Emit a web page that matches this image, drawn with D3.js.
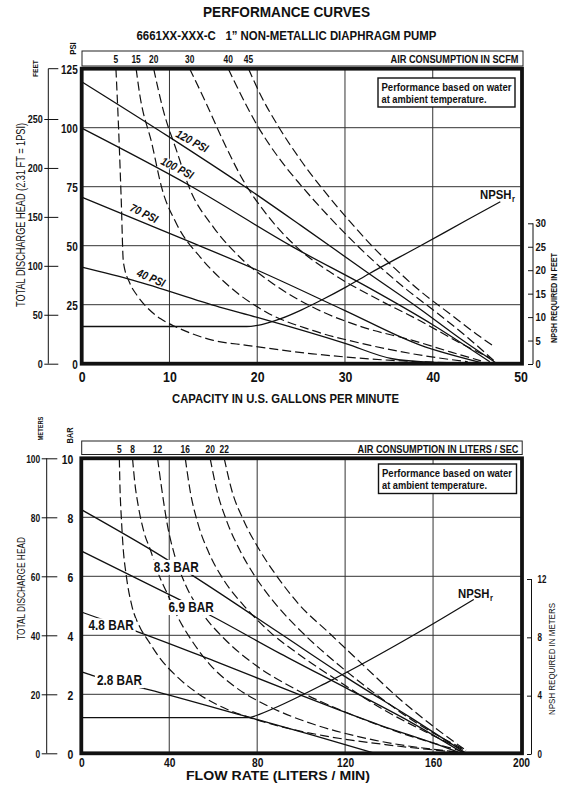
<!DOCTYPE html>
<html><head><meta charset="utf-8">
<script src="https://cdn.jsdelivr.net/npm/d3@7"></script>
<style>
html,body{margin:0;padding:0;background:#fff;}
svg{display:block;}
</style></head><body>
<svg id="c" width="572" height="790"></svg>
<script>
// ---------------- DATA ----------------
// Top chart: capacity (US GPM) vs head (PSI)
const gpmTicks = [0, 10, 20, 30, 40, 50];
const psiTicks = [0, 25, 50, 75, 100, 125];
const feetTicks = [0, 50, 100, 150, 200, 250];
const npshFeetTicks = [0, 5, 10, 15, 20, 25, 30];
const psiLineNames = ["120 PSI", "100 PSI", "70 PSI", "40 PSI"];
const psi120 = [[0,119.5],[10,96],[18.4,75.5],[25,58.5],[32.8,38],[38.5,23.3],[43,11],[47.1,0.6]];
const psi100 = [[0,99.8],[12.3,75.5],[24.1,49.4],[32.8,32],[40,16.5],[46.5,0.8]];
const psi70  = [[0,70.6],[12.7,51.1],[19.9,39.8],[30,22.5],[38.5,8],[45.5,0.5]];
const psi40  = [[0,40.9],[5.9,35.3],[15.7,24],[19.9,19.7],[30.1,8.5],[35.4,2.1],[40,0.6],[43.5,0]];
const scfmValues = [5, 15, 20, 30, 40, 45];
const scfm5  = [[3.9,125],[4.2,100],[4.5,70],[4.75,43],[5.5,34],[6.3,29],[7.4,24],[9,19],[10.8,15.5],[15,9.9],[18.8,7.8],[26.3,4.2],[35.4,1.4],[43,0.3]];
const scfm15 = [[6.2,125],[6.6,114.4],[8,93.2],[9.1,74.8],[10.8,59.3],[13.5,45.2],[16.9,32.5],[21,21.9],[26.3,14.1],[32,8.5],[38,4],[44,0.8]];
const scfm20 = [[8.2,125],[9.3,107.3],[10.8,90.4],[12.3,74.2],[15,57.9],[18,45.2],[21.8,33.9],[26.3,24],[32,15.5],[37.7,9.9],[42,5],[45.5,1.2]];
const scfm30 = [[12.3,125],[14.2,110.2],[16.1,94.6],[18.4,77.7],[21,63.6],[24.5,49.4],[28.6,38.1],[34,26.8],[38.5,18.3],[43,9],[46.5,2.5]];
const scfm40 = [[16.7,125],[18,115],[20,101],[22.5,87],[25,75.5],[28,63],[31,51.5],[34,41],[37,31.5],[40.5,21.5],[44,11],[47,1.2]];
const scfm45 = [[19,125],[20.5,113],[22.5,100],[25,86],[28,71.5],[30.5,60.5],[32.8,51],[35.5,41],[38.5,31],[42,21],[45,12.5],[47.1,7]];
const npshFeet = [[0,8],[18.8,8],[20.5,8.4],[22.6,9.6],[25,11.5],[27.5,13.8],[30.1,16.4],[32.8,19.3],[38.5,25.1],[43.9,30.7],[47.7,34.6]];

// Bottom chart: flow rate (L/min) vs head (BAR)
const lpmTicks = [0, 40, 80, 120, 160, 200];
const barTicks = [0, 2, 4, 6, 8, 10];
const meterTicks = [0, 20, 40, 60, 80, 100];
const npshMeterTicks = [0, 4, 8, 12];
const barLineNames = ["8.3 BAR", "6.9 BAR", "4.8 BAR", "2.8 BAR"];
const bar83 = [[0,8.26],[35.9,6.71],[48,6.15],[90.5,4.06],[120,2.6],[150,1.2],[175,0]];
const bar69 = [[0,6.86],[40.5,5.36],[57.1,4.74],[90.5,3.38],[120.8,2.2],[150,1.05],[174,0]];
const bar48 = [[0,4.79],[6.4,4.62],[26,4.11],[60.1,3.14],[98,2.02],[136,0.95],[160,0.35],[173,0]];
const bar28 = [[0,2.76],[4.9,2.64],[30.6,2.16],[75.3,1.24],[105.6,0.61],[133.6,0]];
const lpsValues = [5, 8, 12, 16, 20, 22];
const lps5  = [[17.3,10],[17.6,9],[18.2,8],[19,7],[20.5,6],[23,5],[26.5,4.3],[30.6,3.8],[36,3.2],[43.5,2.6],[52.6,2.05],[66,1.5],[75,1.25],[90,0.92],[110,0.6],[140,0.28],[172,0.03]];
const lps8  = [[23.3,10],[24.3,9.2],[26,8.35],[28.5,7.5],[31.4,6.9],[35,6.1],[39.2,5.4],[44,4.6],[50,3.85],[58,3.05],[70,2.25],[85,1.6],[105,1.0],[130,0.5],[173,0.03]];
const lps12 = [[34.7,10],[36.7,8.9],[39,7.8],[42.5,6.7],[47.5,5.7],[55,4.75],[65.5,3.85],[80,2.95],[98,2.15],[120,1.4],[143,0.75],[174,0.05]];
const lps16 = [[47.3,10],[49.5,8.9],[53,7.8],[58,6.8],[65,5.85],[74,5.0],[86,4.1],[100,3.3],[117,2.45],[137,1.5],[156,0.75],[175,0.08]];
const lps20 = [[58.6,10],[61.7,8.9],[66,7.9],[72,6.9],[79,6.0],[88.5,5.05],[101,4.06],[117,3.0],[134,2.0],[152,1.05],[175,0.1]];
const lps22 = [[65,10],[68.5,8.9],[73.8,7.9],[81,6.9],[89,6.0],[99,5.05],[113,4.06],[128.8,2.95],[143.9,1.9],[158.6,1.0],[174,0.15]];
const npshMeters = [[0,2.5],[76,2.5],[78.5,2.58],[81,2.72],[113,5.0],[154,8.4],[178.5,10.6]];

// ---------------- DRAWING ----------------
const svg = d3.select("#c");
const FONT = "'Liberation Sans',Arial,Helvetica,sans-serif";
const INK = "#111";

function squeeze(node, f) {
  const L = node.getComputedTextLength();
  node.setAttribute("textLength", (L * f).toFixed(2));
  node.setAttribute("lengthAdjust", "spacingAndGlyphs");
}
function T(parent, o) {
  const t = parent.append("text")
    .attr("x", o.x).attr("y", o.y)
    .attr("font-family", FONT)
    .attr("font-size", o.size || 11)
    .attr("font-weight", o.weight || "bold")
    .attr("font-style", o.italic ? "italic" : "normal")
    .attr("text-anchor", o.anchor || "start")
    .attr("fill", INK)
    .style("white-space", "pre")
    .text(o.text);
  if (o.dy) t.attr("dy", o.dy);
  if (o.rotate) t.attr("transform", `rotate(${o.rotate},${o.x},${o.y})`);
  if (o.len) t.attr("textLength", o.len).attr("lengthAdjust", "spacingAndGlyphs");
  else if (o.sq !== 1) squeeze(t.node(), o.sq || 0.82);
  return t;
}
function styleAxis(g, size, f) {
  g.select(".domain").remove();
  g.selectAll("text").attr("font-family", FONT).attr("font-weight", "bold")
    .attr("font-size", size).attr("fill", INK)
    .each(function() { squeeze(this, f); });
  g.selectAll(".tick line").attr("stroke", INK).attr("stroke-width", 1);
}
function interp(series, x) {
  for (let i = 1; i < series.length; i++) {
    if (x <= series[i][0]) {
      const a = series[i-1], b = series[i];
      return a[1] + (b[1]-a[1]) * (x - a[0]) / (b[0]-a[0]);
    }
  }
  return series[series.length-1][1];
}
function npshLabel(parent, x, y) {
  const g = parent.append("g").attr("transform", `translate(${x},${y}) scale(0.84,1)`);
  const t = g.append("text").attr("x", 0).attr("y", 0)
    .attr("font-family", FONT).attr("font-size", 13.5).attr("font-weight", "bold").attr("fill", INK)
    .text("NPSH");
  t.append("tspan").attr("font-size", 9).attr("dx", 0.5).attr("dy", 3).text("r");
}

// Titles
T(svg, {x: 286.5, y: 16.5, text: "PERFORMANCE CURVES", size: 14, anchor: "middle", len: 167});
T(svg, {x: 286.5, y: 39.5, text: "6661XX-XXX-C   1\u201D NON-METALLIC DIAPHRAGM PUMP", size: 12, anchor: "middle", len: 300});

// ============ TOP CHART ============
const xT = d3.scaleLinear().domain([0, 50]).range([81.7, 520.5]);
const yT = d3.scaleLinear().domain([0, 125]).range([363.7, 68.7]);
const yFt = d3.scaleLinear().domain([0, 250]).range([363.7, 119]);
const yNf = d3.scaleLinear().domain([0, 30]).range([364, 223.3]);
const gTop = svg.append("g");

gTop.append("rect").attr("x", 82).attr("y", 51).attr("width", 441).attr("height", 15)
  .attr("fill", "#fff").attr("stroke", "#222").attr("stroke-width", 1);
T(gTop, {x: 518.5, y: 62.8, text: "AIR CONSUMPTION IN SCFM", size: 10.5, anchor: "end", len: 128});
const scfmCurves = [scfm5, scfm15, scfm20, scfm30, scfm40, scfm45];
scfmValues.forEach((v, i) => T(gTop, {x: xT(scfmCurves[i][0][0]), y: 62.8, text: String(v), size: 10.5, anchor: "middle", sq: 0.8}));
T(gTop, {x: 75.5, y: 48.5, text: "PSI", size: 9.5, anchor: "middle", rotate: -90});
T(gTop, {x: 38, y: 68.5, text: "FEET", size: 8, anchor: "middle", rotate: -90});

const gridT = gTop.append("g").attr("stroke", "#333").attr("stroke-width", 1);
[10, 20, 30, 40].forEach(v => gridT.append("line").attr("x1", xT(v)).attr("x2", xT(v)).attr("y1", yT(125)).attr("y2", yT(0)));
[25, 50, 75, 100].forEach(v => gridT.append("line").attr("x1", xT(0)).attr("x2", xT(50)).attr("y1", yT(v)).attr("y2", yT(v)));

svg.append("clipPath").attr("id", "clipT").append("rect")
  .attr("x", xT(0)).attr("y", yT(125)).attr("width", xT(50) - xT(0)).attr("height", yT(0) - yT(125));
const curvesT = gTop.append("g").attr("clip-path", "url(#clipT)").attr("fill", "none").attr("stroke", INK);
const lineT = d3.line().x(d => xT(d[0])).y(d => yT(d[1])).curve(d3.curveMonotoneX);
[psi120, psi100, psi70, psi40].forEach(s => curvesT.append("path").attr("d", lineT(s)).attr("stroke-width", 1.3));
scfmCurves.forEach(s => curvesT.append("path").attr("d", lineT(s)).attr("stroke-width", 1.2).attr("stroke-dasharray", "9,4"));
const lineNf = d3.line().x(d => xT(d[0])).y(d => yNf(d[1])).curve(d3.curveMonotoneX);
curvesT.append("path").attr("d", lineNf(npshFeet)).attr("stroke-width", 1.3);

gTop.append("rect").attr("x", 378).attr("y", 78).attr("width", 137).attr("height", 29)
  .attr("fill", "#fff").attr("stroke", INK).attr("stroke-width", 1.4);
T(gTop, {x: 381.5, y: 90.5, text: "Performance based on water", size: 11, len: 130});
T(gTop, {x: 381.5, y: 102.5, text: "at ambient temperature.", size: 11, len: 105});

const psiSeries = [psi120, psi100, psi70, psi40];
const psiLabelAt = [[12.6, 11], [10.9, 11], [7.1, 9.5], [7.9, 8]];
const psiLabelAngle = [28, 27, 26, 23];
psiLineNames.forEach((n, i) => {
  const gx = psiLabelAt[i][0];
  const px = xT(gx), py = yT(interp(psiSeries[i], gx)) - psiLabelAt[i][1];
  T(gTop, {x: px, y: py, text: n, size: 11.5, italic: true, anchor: "middle", dy: "0.35em", rotate: psiLabelAngle[i], sq: 0.85})
    .attr("stroke", "#fff").attr("stroke-width", 2.5).attr("paint-order", "stroke");
});
npshLabel(gTop, 480, 198.5);

gTop.append("rect").attr("x", xT(0)).attr("y", yT(125)).attr("width", 522 - xT(0)).attr("height", yT(0) - yT(125))
  .attr("fill", "none").attr("stroke", INK).attr("stroke-width", 3.8);

const axPsi = gTop.append("g").attr("transform", `translate(${xT(0)},0)`)
  .call(d3.axisLeft(yT).tickValues(psiTicks).tickSize(0).tickPadding(4));
styleAxis(axPsi, 12.5, 0.8); axPsi.selectAll("text").attr("dy", "0.42em");
const axFt = gTop.append("g").attr("transform", "translate(58.3,0)")
  .call(d3.axisLeft(yFt).tickValues(feetTicks).tickSize(14).tickPadding(1.5));
styleAxis(axFt, 11, 0.82); axFt.selectAll("text").attr("dy", "0.36em");
gTop.append("line").attr("x1", 48.3).attr("x2", 48.3).attr("y1", yT(125)).attr("y2", yFt(0)).attr("stroke", INK);
gTop.append("line").attr("x1", 48.3).attr("x2", 58.3).attr("y1", yT(125)).attr("y2", yT(125)).attr("stroke", INK);
const axNf = gTop.append("g").attr("transform", "translate(528,0)")
  .call(d3.axisRight(yNf).tickValues(npshFeetTicks).tickSize(5).tickPadding(2.5));
styleAxis(axNf, 11, 0.85);
gTop.append("line").attr("x1", 533).attr("x2", 533).attr("y1", yNf(30)).attr("y2", yNf(0)).attr("stroke", INK);
const axGpm = gTop.append("g").attr("transform", `translate(0,${yT(0)})`)
  .call(d3.axisBottom(xT).tickValues(gpmTicks).tickSize(0).tickPadding(8));
styleAxis(axGpm, 14, 0.88);

T(gTop, {x: 285.5, y: 402.5, text: "CAPACITY IN U.S. GALLONS PER MINUTE", size: 12.5, anchor: "middle", len: 227});
T(gTop, {x: 24.5, y: 215, text: "TOTAL DISCHARGE HEAD (2.31 FT = 1PSI)", size: 12, weight: "normal", anchor: "middle", rotate: -90, len: 184});
T(gTop, {x: 556.5, y: 298, text: "NPSH REQUIRED IN FEET", size: 9.5, anchor: "middle", rotate: -90, len: 90});

// ============ BOTTOM CHART ============
const xB = d3.scaleLinear().domain([0, 200]).range([81.3, 521]);
const yB = d3.scaleLinear().domain([0, 10]).range([753.3, 458.3]);
const yM = d3.scaleLinear().domain([0, 100]).range([753.3, 458.3]);
const yNm = d3.scaleLinear().domain([0, 12]).range([754, 579]);
const gBot = svg.append("g");

gBot.append("rect").attr("x", 81.7).attr("y", 441).attr("width", 440.5).attr("height", 13.5)
  .attr("fill", "#fff").attr("stroke", "#222").attr("stroke-width", 1);
T(gBot, {x: 518.5, y: 452.5, text: "AIR CONSUMPTION IN LITERS / SEC", size: 10.5, anchor: "end", len: 161});
const lpsCurves = [lps5, lps8, lps12, lps16, lps20, lps22];
lpsValues.forEach((v, i) => T(gBot, {x: xB(lpsCurves[i][0][0]), y: 452.5, text: String(v), size: 10.5, anchor: "middle", sq: 0.8}));
T(gBot, {x: 73, y: 435.5, text: "BAR", size: 9, anchor: "middle", rotate: -90});
T(gBot, {x: 42.5, y: 428.5, text: "METERS", size: 7, anchor: "middle", rotate: -90});

const gridB = gBot.append("g").attr("stroke", "#333").attr("stroke-width", 1);
[40, 80, 120, 160].forEach(v => gridB.append("line").attr("x1", xB(v)).attr("x2", xB(v)).attr("y1", yB(10)).attr("y2", yB(0)));
[2, 4, 6, 8].forEach(v => gridB.append("line").attr("x1", xB(0)).attr("x2", xB(200)).attr("y1", yB(v)).attr("y2", yB(v)));

svg.append("clipPath").attr("id", "clipB").append("rect")
  .attr("x", xB(0)).attr("y", yB(10)).attr("width", xB(200) - xB(0)).attr("height", yB(0) - yB(10));
const curvesB = gBot.append("g").attr("clip-path", "url(#clipB)").attr("fill", "none").attr("stroke", INK);
const lineB = d3.line().x(d => xB(d[0])).y(d => yB(d[1])).curve(d3.curveMonotoneX);
[bar83, bar69, bar48, bar28].forEach(s => curvesB.append("path").attr("d", lineB(s)).attr("stroke-width", 1.3));
lpsCurves.forEach(s => curvesB.append("path").attr("d", lineB(s)).attr("stroke-width", 1.2).attr("stroke-dasharray", "9,4"));
const lineNm = d3.line().x(d => xB(d[0])).y(d => yNm(d[1])).curve(d3.curveMonotoneX);
curvesB.append("path").attr("d", lineNm(npshMeters)).attr("stroke-width", 1.3);

const barLabelAt = [[32.9, 6.15], [39.7, 4.79], [3.3, 4.17], [7.1, 2.31]];
barLineNames.forEach((n, i) => {
  const g = gBot.append("g");
  const t = T(g, {x: xB(barLabelAt[i][0]), y: yB(barLabelAt[i][1]), text: n, size: 14, sq: 0.84});
  const bb = t.node().getBBox();
  g.insert("rect", "text").attr("x", bb.x - 2).attr("y", bb.y + 1).attr("width", bb.width + 4).attr("height", bb.height - 1).attr("fill", "#fff");
});

gBot.append("rect").attr("x", 378.5).attr("y", 464).attr("width", 138).attr("height", 29.5)
  .attr("fill", "#fff").attr("stroke", INK).attr("stroke-width", 1.4);
T(gBot, {x: 382, y: 477, text: "Performance based on water", size: 11, len: 130});
T(gBot, {x: 382, y: 489, text: "at ambient temperature.", size: 11, len: 105});

npshLabel(gBot, 458, 598);

gBot.append("rect").attr("x", xB(0)).attr("y", yB(10)).attr("width", 522 - xB(0)).attr("height", yB(0) - yB(10))
  .attr("fill", "none").attr("stroke", INK).attr("stroke-width", 3.8);

const axBar = gBot.append("g").attr("transform", `translate(${xB(0)},0)`)
  .call(d3.axisLeft(yB).tickValues(barTicks).tickSize(0).tickPadding(8));
styleAxis(axBar, 13, 0.8); axBar.selectAll("text").attr("dy", "0.38em");
const axM = gBot.append("g").attr("transform", "translate(57.3,0)")
  .call(d3.axisLeft(yM).tickValues(meterTicks).tickSize(15.6).tickPadding(1.5));
styleAxis(axM, 10.5, 0.8); axM.selectAll("text").attr("dy", "0.36em");
gBot.append("line").attr("x1", 46.7).attr("x2", 46.7).attr("y1", yM(100)).attr("y2", yM(0)).attr("stroke", INK);
const axNm = gBot.append("g").attr("transform", "translate(527,0)")
  .call(d3.axisRight(yNm).tickValues(npshMeterTicks).tickSize(4.5).tickPadding(6));
styleAxis(axNm, 10, 0.8);
gBot.append("line").attr("x1", 531.5).attr("x2", 531.5).attr("y1", yNm(12)).attr("y2", yNm(0)).attr("stroke", INK);
const axLpm = gBot.append("g").attr("transform", `translate(0,${yB(0)})`)
  .call(d3.axisBottom(xB).tickValues(lpmTicks).tickSize(0).tickPadding(5));
styleAxis(axLpm, 12.5, 0.82);

T(gBot, {x: 278, y: 780, text: "FLOW RATE (LITERS / MIN)", size: 12, anchor: "middle", len: 184});
T(gBot, {x: 24.5, y: 588.5, text: "TOTAL DISCHARGE HEAD", size: 11, weight: "normal", anchor: "middle", rotate: -90, len: 103});
T(gBot, {x: 555, y: 659, text: "NPSH REQUIRED IN METERS", size: 9.5, weight: "normal", anchor: "middle", rotate: -90, len: 112});
</script></body></html>
